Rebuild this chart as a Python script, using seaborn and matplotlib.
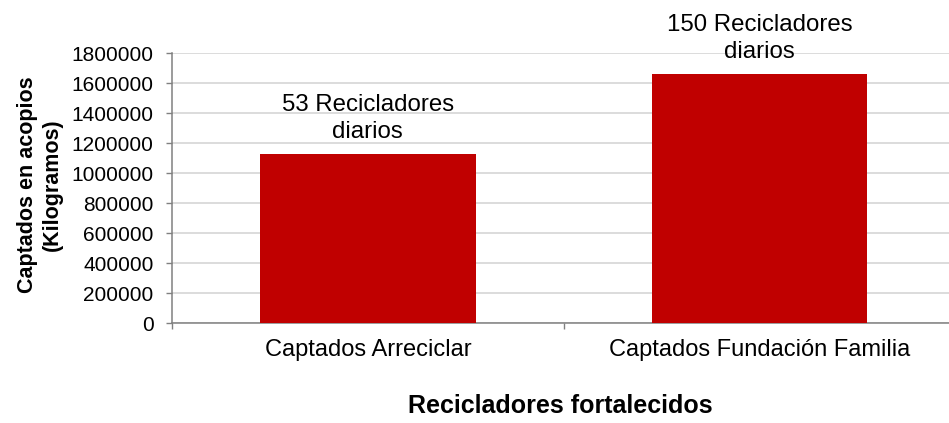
import matplotlib
matplotlib.use("Agg")
import matplotlib.pyplot as plt
import seaborn as sns
import pandas as pd
from matplotlib.ticker import FixedLocator

categories = ["Captados Arreciclar", "Captados Fundación Familia"]
values = [1127000, 1660000]
annotations = ["53 Recicladores\ndiarios", "150 Recicladores\ndiarios"]
yticks = [0, 200000, 400000, 600000, 800000, 1000000, 1200000, 1400000, 1600000, 1800000]

sns.set_theme(style="white")
plt.rcParams['font.family'] = ['Liberation Sans', 'DejaVu Sans']

df = pd.DataFrame({"cat": categories, "val": values})

fig = plt.figure(figsize=(9.49, 4.23), dpi=100)
ax = fig.add_axes([172/949, 99.7/423, (949-172)/949, 270/423])

sns.barplot(data=df, x="cat", y="val", color="#C00000", width=0.55,
            saturation=1, ax=ax, zorder=3)
for p in ax.patches:
    p.set_edgecolor("none")

ax.set_xlim(-0.5, 1.4836)
ax.set_ylim(0, 1800000)
ax.set_yticks(yticks)
ax.set_yticklabels([str(v) for v in yticks], fontsize=15, color="#000000")
ax.yaxis.grid(True, color="#D9D9D9", linewidth=1.3, zorder=0)
ax.set_axisbelow(True)

ax.tick_params(axis="y", which="major", direction="out", length=4.3, width=1,
               color="#808080", left=True, pad=9)
ax.tick_params(axis="x", which="major", length=0, labelsize=17, pad=11.5, labelcolor="#000000")
ax.xaxis.set_minor_locator(FixedLocator([-0.5, 0.5]))
ax.tick_params(axis="x", which="minor", direction="out", length=4.3, width=1,
               color="#808080", bottom=True)

for side in ["top", "right"]:
    ax.spines[side].set_visible(False)
for side in ["left", "bottom"]:
    ax.spines[side].set_color("#808080")
    ax.spines[side].set_linewidth(1.1)

for i, (v, t) in enumerate(zip(values, annotations)):
    ax.annotate(t, xy=(i, v), xytext=(0, 8), textcoords="offset points",
                ha="center", va="bottom", fontsize=17.3, color="#000000",
                linespacing=1.3)

ax.set_xlabel("Recicladores fortalecidos", fontsize=18, fontweight="bold",
              color="#000000")
ax.xaxis.set_label_coords(0.5, -0.262)
ax.set_ylabel("Captados en acopios\n(Kilogramos)", fontsize=15.5, fontweight="bold",
              color="#000000", linespacing=1.25)
ax.yaxis.set_label_coords(-0.140, 0.512)

fig.savefig("out.png", dpi=100)
